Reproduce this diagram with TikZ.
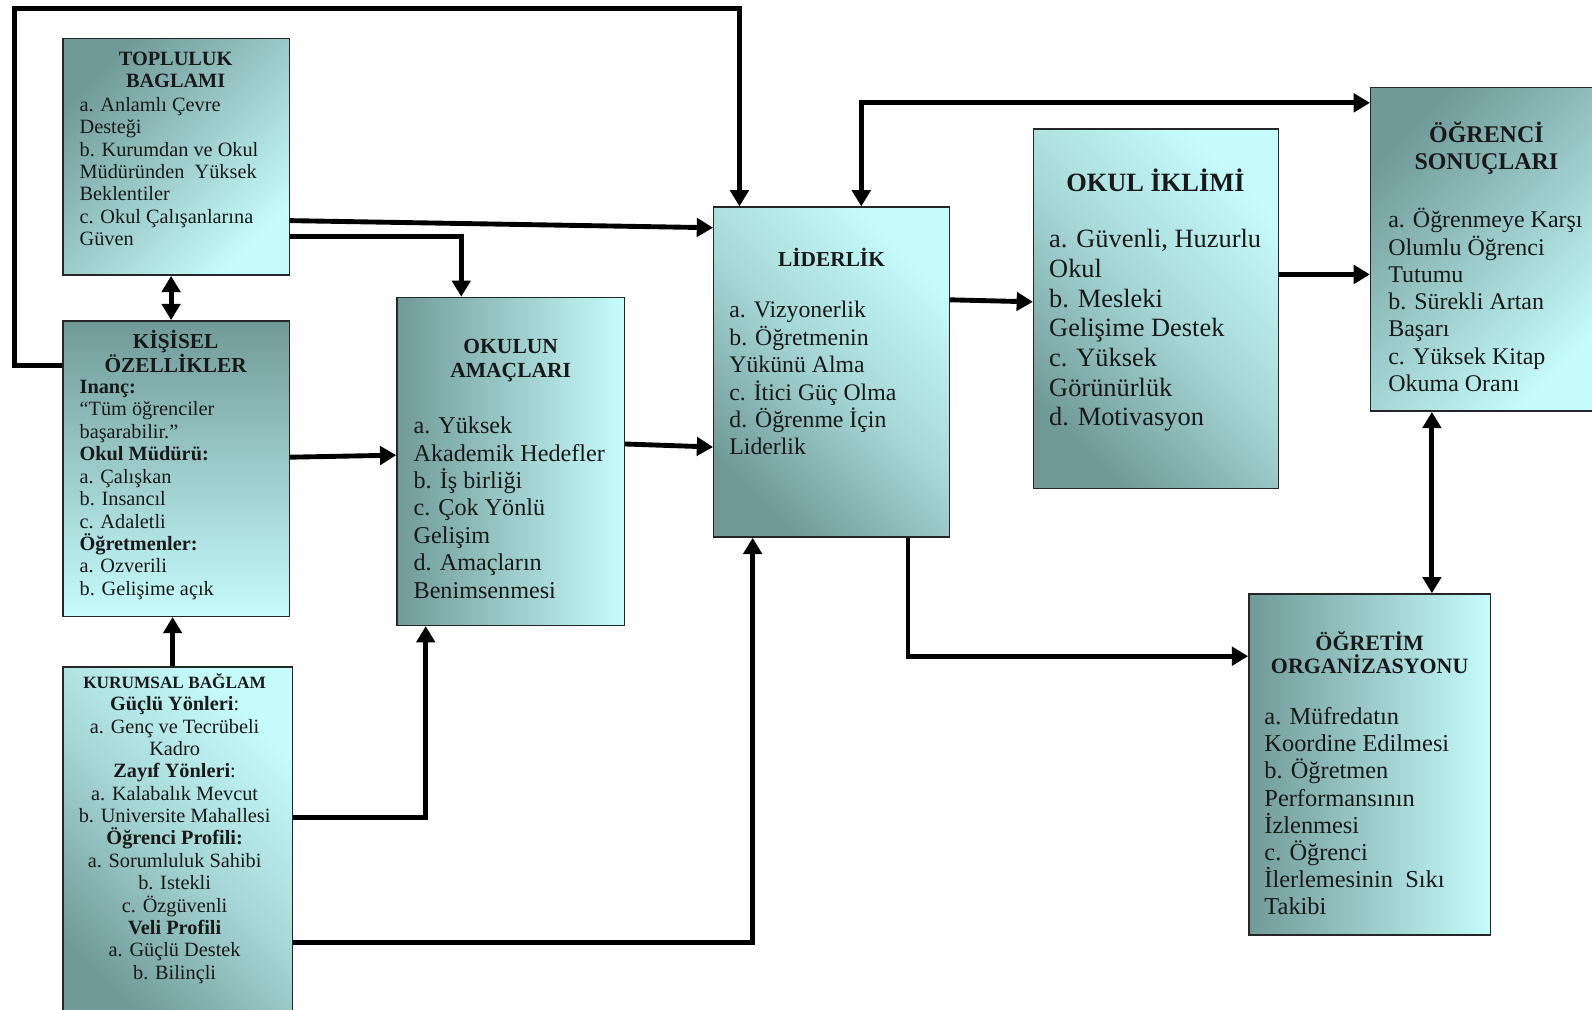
\documentclass[tikz,border=0pt]{standalone}
\usepackage{fontspec}
\setmainfont{Liberation Serif}
\usetikzlibrary{arrows.meta,calc}
\definecolor{boxdark}{RGB}{112,154,152}
\definecolor{boxlight}{RGB}{198,252,252}
\begin{document}
\begin{tikzpicture}[x=0.5pt,y=-0.5pt,
  box/.style={draw=black!85, line width=0.7pt, inner sep=0pt, shape=rectangle},
  gdiagA/.style={top color=boxdark, bottom color=boxlight, shading angle=45},
  gdiagB/.style={top color=boxlight, bottom color=boxdark, middle color=boxlight!62!boxdark, shading angle=-45},
  gvert/.style={top color=boxdark, bottom color=boxlight},
  ghor/.style={left color=boxdark, right color=boxlight},
  conn/.style={line width=2.4pt, line join=miter},
  arr/.style={conn, -{Triangle[length=8pt,width=9pt]}},
  dbl/.style={conn, {Triangle[length=8pt,width=9pt]}-{Triangle[length=8pt,width=9pt]}},
  ttl/.style={inner sep=0pt, align=center, text=black!90},
  bdy/.style={inner sep=0pt, align=left, anchor=west, text=black!90}
]
\useasboundingbox (0,0) rectangle (1568,994);

% boxes
\node[box, gdiagA, minimum width=111.5pt, minimum height=116.5pt] (tl) at (173.5,154.5) {};
\node[box, gvert,  minimum width=111.5pt, minimum height=145.5pt] (ks) at (173.5,461.5) {};
\node[box, gdiagB, minimum width=113pt,   minimum height=176.5pt] (ku) at (175,833.5) {};
\node[box, ghor,   minimum width=112pt,   minimum height=161.5pt] (ok) at (503,454.5) {};
\node[box, gdiagB, minimum width=116pt,   minimum height=162.5pt] (ld) at (819,366.5) {};
\node[box, gdiagB, minimum width=120.5pt, minimum height=177pt]   (oi) at (1138.5,304) {};
\node[box, gdiagA, minimum width=115pt,   minimum height=159.5pt] (os) at (1465,245.5) {};
\node[box, ghor,   minimum width=119pt,   minimum height=168pt]   (og) at (1349,753) {};

% connectors
\coordinate (loopa) at (14,8);
\draw[arr] ($(tl.north east)+(0,180)$) -- ($(ld.north west)+(0,21)$);
\draw[arr] ($(tl.north east)+(0,196)$) -| ($(ok.north west)+(64,0)$);
\draw[dbl] ($(tl.south)+(-5,0)$) -- ($(ks.north)+(-5,0)$);
\draw[arr] ($(ks.north east)+(0,135)$) -- ($(ok.north west)+(0,156)$);
\draw[arr] ($(ku.north)+(-5,0)$) -- ($(ks.south)+(-3.5,0)$);
\draw[arr] ($(ku.north east)+(0,149)$) -| ($(ok.south west)+(29,0)$);
\draw[arr] ($(ku.north east)+(0,272)$) -| ($(ld.south west)+(39,0)$);
\draw[arr] ($(ok.north east)+(0,145)$) -- ($(ld.north west)+(0,237)$);
\draw[arr] ($(ks.north west)+(0,45)$) -| (loopa) -| ($(ld.north west)+(26,0)$);
\draw[arr] ($(ld.north east)+(0,92)$) -- ($(oi.north west)+(0,171)$);
\draw[arr] ($(oi.north east)+(0,144)$) -- ($(os.north west)+(0,185)$);
\draw[dbl] ($(ld.north west)+(146,0)$) |- ($(os.north west)+(0,16)$);
\draw[arr] ($(ld.south west)+(192,0)$) |- ($(og.north west)+(0,62)$);
\draw[dbl] ($(os.south west)+(61,0)$) -- ($(og.north west)+(181,0)$);

% texts
\node[ttl, font=\bfseries\fontsize{10}{11}\selectfont] (tlt) at (173,69) {TOPLULUK\\BAGLAMI};
\node[bdy, font=\fontsize{10}{11}\selectfont] (tlb) at (78,169) {a. Anlamlı Çevre\\Desteği\\b. Kurumdan ve Okul\\Müdüründen\ \ Yüksek\\Beklentiler\\c. Okul Çalışanlarına\\Güven};

\node[ttl, font=\bfseries\fontsize{10.5}{12}\selectfont] (kst) at (173,346) {KİŞİSEL\\ÖZELLİKLER};
\node[bdy, font=\fontsize{10}{11.05}\selectfont] (ksb) at (78,482.5) {\textbf{Inanç:}\\“Tüm öğrenciler\\başarabilir.”\\\textbf{Okul Müdürü:}\\a. Çalışkan\\b. Insancıl\\c. Adaletli\\\textbf{Öğretmenler:}\\a. Ozverili\\b. Gelişime açık};

\node[ttl, font=\fontsize{10}{11}\selectfont] (kub) at (172,816) {{\fontsize{8.5}{11}\selectfont\bfseries KURUMSAL BAĞLAM}\\\textbf{Güçlü Yönleri}:\\a. Genç ve Tecrübeli\\Kadro\\\textbf{Zayıf Yönleri}:\\a. Kalabalık Mevcut\\b. Universite Mahallesi\\\textbf{Öğrenci Profili:}\\a. Sorumluluk Sahibi\\b. Istekli\\c. Özgüvenli\\\textbf{Veli Profili}\\a. Güçlü Destek\\b. Bilinçli};

\node[ttl, font=\bfseries\fontsize{10.6}{12}\selectfont] (okt) at (503,355) {OKULUN\\AMAÇLARI};
\node[bdy, font=\fontsize{11.9}{13.5}\selectfont] (okb) at (407,500) {a. Yüksek\\Akademik Hedefler\\b. İş birliği\\c. Çok Yönlü\\Gelişim\\d. Amaçların\\Benimsenmesi};

\node[ttl, font=\bfseries\fontsize{10.5}{12}\selectfont] (ldt) at (819,254) {LİDERLİK};
\node[bdy, font=\fontsize{11.7}{13.5}\selectfont] (ldb) at (718,372.5) {a. Vizyonerlik\\b. Öğretmenin\\Yükünü Alma\\c. İtici Güç Olma\\d. Öğrenme İçin\\Liderlik};

\node[ttl, font=\bfseries\fontsize{13}{14.6}\selectfont] (oit) at (1138,178) {OKUL İKLİMİ};
\node[bdy, font=\fontsize{13}{14.6}\selectfont] (oib) at (1033,325.5) {a. Güvenli, Huzurlu\\Okul\\b. Mesleki\\Gelişime Destek\\c. Yüksek\\Görünürlük\\d. Motivasyon};

\node[ttl, font=\bfseries\fontsize{11.8}{13}\selectfont] (ost) at (1464,146) {ÖĞRENCİ\\SONUÇLARI};
\node[bdy, font=\fontsize{11.8}{13.4}\selectfont] (osb) at (1367,295.5) {a. Öğrenmeye Karşı\\Olumlu Öğrenci\\Tutumu\\b. Sürekli Artan\\Başarı\\c. Yüksek Kitap\\Okuma Oranı};

\node[ttl, font=\bfseries\fontsize{10.8}{11.5}\selectfont] (ogt) at (1349,642.5) {ÖĞRETİM\\ORGANİZASYONU};
\node[bdy, font=\fontsize{12}{13.4}\selectfont] (ogb) at (1245,799) {a. Müfredatın\\Koordine Edilmesi\\b. Öğretmen\\Performansının\\İzlenmesi\\c. Öğrenci\\İlerlemesinin\ \ Sıkı\\Takibi};
\end{tikzpicture}
\end{document}
